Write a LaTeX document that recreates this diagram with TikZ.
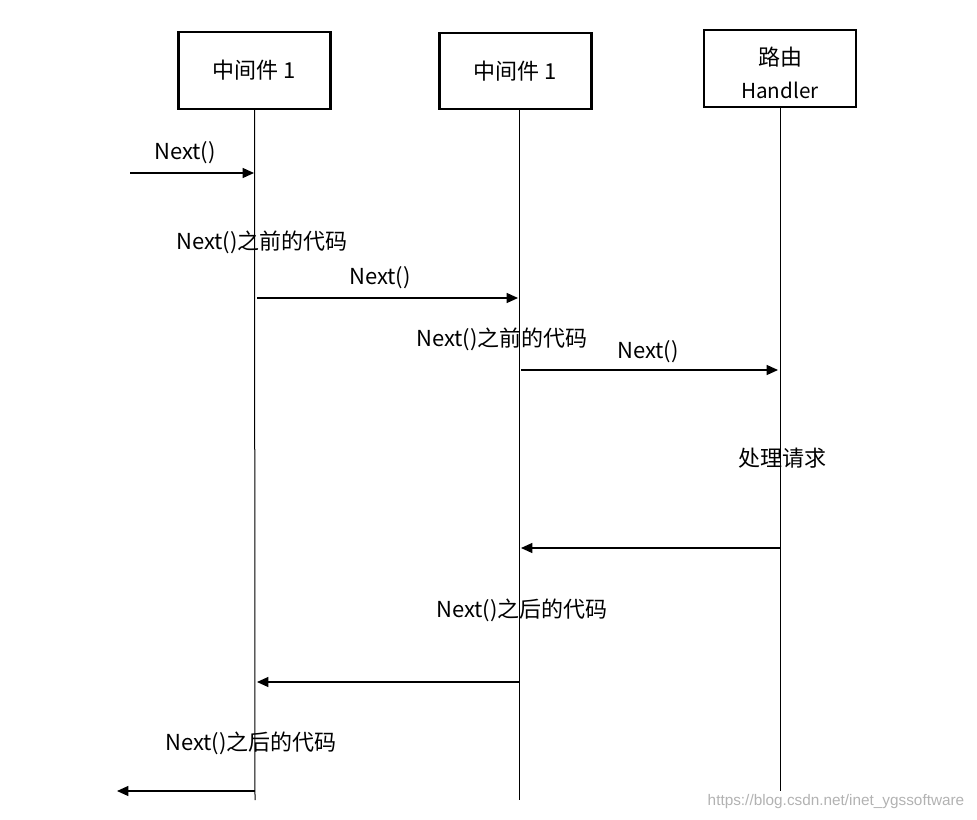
\documentclass[tikz,border=0pt]{standalone}
\usepackage{fontspec}
\setmainfont{Noto Sans CJK SC}
\newfontfamily\wmfont{Liberation Sans}
\usetikzlibrary{arrows.meta}
\begin{document}
\begin{tikzpicture}[x=0.75pt,y=-0.75pt,
  actorbox/.style={draw,line width=1.6pt,minimum width=114pt,minimum height=57.5pt,inner sep=0pt,align=center,font=\fontsize{16.5}{25}\selectfont},
  lifeline/.style={line width=0.75pt},
  msg/.style={line width=0.9pt,-{Triangle[length=8.5pt,width=7.5pt]}},
  lbl/.style={inner sep=0pt,font=\fontsize{16.5}{19}\selectfont},
  wm/.style={inner sep=0pt,text=black!30,font=\wmfont\fontsize{11.5}{13}\selectfont}]
\useasboundingbox (0,0) rectangle (977,820);
% actors
\node[actorbox] (b1) at (254.5,70.5) {中间件 1};
\node[actorbox] (b2) at (515.5,71) {中间件 1};
\node[actorbox] (b3) at (780,68.5) {\rule{0pt}{20.5pt}路由\\\fontsize{15.5}{25}\selectfont Handler};
% lifeline ends
\coordinate (e1) at (255,800);
\coordinate (e2) at (519,800);
\coordinate (e3) at (780,791);
\draw[lifeline] (b1.south) -- (e1);
\draw[lifeline] (b2.south -| e2) -- (e2);
\draw[lifeline] (b3.south) -- (e3);
% message points
\coordinate (s1) at (130,173);  \coordinate (t1) at (254,173);
\coordinate (s2) at (257,298);  \coordinate (t2) at (518,298);
\coordinate (s3) at (521,370);  \coordinate (t3) at (778,370);
\coordinate (s4) at (780,548);  \coordinate (t4) at (521,548);
\coordinate (s5) at (519,682);  \coordinate (t5) at (257,682);
\coordinate (s6) at (255,791);  \coordinate (t6) at (117,791);
\draw[msg] (s1) -- (t1);
\draw[msg] (s2) -- (t2);
\draw[msg] (s3) -- (t3);
\draw[msg] (s4) -- (t4);
\draw[msg] (s5) -- (t5);
\draw[msg] (s6) -- (t6);
% labels
\node[lbl] (n1) at (185,153) {Next()};
\node[lbl] (c1) at (262,242) {Next()之前的代码};
\node[lbl] (n2) at (380,278) {Next()};
\node[lbl] (c2) at (502,339) {Next()之前的代码};
\node[lbl] (n3) at (648,352) {Next()};
\node[lbl] (h)  at (782,458) {处理请求};
\node[lbl] (c3) at (522,610) {Next()之后的代码};
\node[lbl] (c4) at (251,743) {Next()之后的代码};
\node[wm] (w) at (836,802) {https://blog.csdn.net/inet\_ygssoftware};
\end{tikzpicture}
\end{document}
